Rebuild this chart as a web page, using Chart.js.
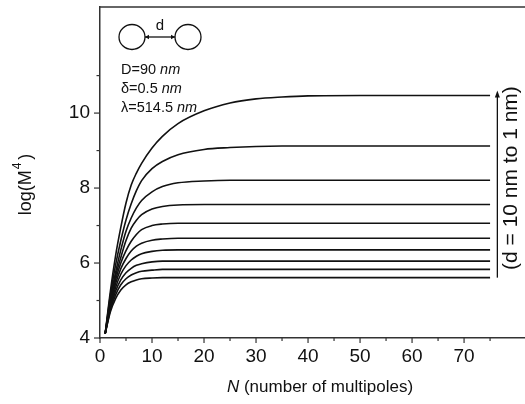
<!DOCTYPE html>
<html><head><meta charset="utf-8">
<script src="https://cdn.jsdelivr.net/npm/chart.js@4/dist/chart.umd.min.js"></script>
<style>html,body{margin:0;padding:0;overflow:hidden;background:#fff}#wrap{width:540px;height:404px;position:relative}</style>
</head><body><div id="wrap"><canvas id="c"></canvas></div>
<script>
// Number of multipoles N (x values)
const N = [1,2,3,4,5,6,7,8,10,12,15,20,25,30,35,40,50,60,75];
// log(M^4) for each gap d (1 nm ... 10 nm)
const d1  = [4.12,5.25,6.20,6.95,7.60,8.08,8.40,8.66,9.07,9.38,9.72,10.06,10.27,10.38,10.43,10.46,10.47,10.47,10.47];
const d2  = [4.12,5.15,5.95,6.60,7.15,7.58,7.93,8.20,8.52,8.71,8.89,9.03,9.08,9.11,9.12,9.12,9.12,9.12,9.12];
const d3  = [4.12,5.05,5.75,6.35,6.85,7.20,7.47,7.67,7.90,8.04,8.14,8.19,8.21,8.21,8.21,8.21,8.21,8.21,8.21];
const d4  = [4.12,5.00,5.65,6.15,6.60,6.93,7.14,7.29,7.44,7.51,7.55,7.56,7.56,7.56,7.56,7.56,7.56,7.56,7.56];
const d5  = [4.12,4.95,5.55,6.00,6.33,6.58,6.76,6.89,7.00,7.04,7.06,7.06,7.06,7.06,7.06,7.06,7.06,7.06,7.06];
const d6  = [4.12,4.90,5.45,5.85,6.12,6.32,6.45,6.53,6.61,6.64,6.66,6.66,6.66,6.66,6.66,6.66,6.66,6.66,6.66];
const d7  = [4.12,4.85,5.35,5.70,5.93,6.08,6.18,6.25,6.31,6.34,6.35,6.35,6.35,6.35,6.35,6.35,6.35,6.35,6.35];
const d8  = [4.12,4.80,5.25,5.55,5.74,5.86,5.94,5.98,6.03,6.05,6.05,6.05,6.05,6.05,6.05,6.05,6.05,6.05,6.05];
const d9  = [4.12,4.75,5.15,5.42,5.58,5.68,5.74,5.78,5.81,5.83,5.83,5.83,5.83,5.83,5.83,5.83,5.83,5.83,5.83];
const d10 = [4.12,4.70,5.05,5.28,5.42,5.50,5.55,5.58,5.60,5.61,5.61,5.61,5.61,5.61,5.61,5.61,5.61,5.61,5.61];
const gapNames = ['d = 1 nm','d = 2 nm','d = 3 nm','d = 4 nm','d = 5 nm','d = 6 nm','d = 7 nm','d = 8 nm','d = 9 nm','d = 10 nm'];
const xTickLabels = [0,10,20,30,40,50,60,70];
const xMinorTicks = [5,15,25,35,45,55,65,75];
const yTickLabels = [4,6,8,10];
const yMinorTicks = [5,7,9,11];

const series = [d1,d2,d3,d4,d5,d6,d7,d8,d9,d10];
const FONT = "'Liberation Sans', Arial, sans-serif";
const INK = '#111';
const AXIS = '#333';

const datasets = series.map((vals, i) => ({
  label: gapNames[i],
  data: N.map((n, k) => ({x: n, y: vals[k]})),
  borderColor: INK,
  borderWidth: 1.6,
  pointRadius: 0,
  fill: false,
  cubicInterpolationMode: 'monotone'
}));

const deco = {
  id: 'deco',
  afterDraw(chart) {
    const ctx = chart.ctx, a = chart.chartArea;
    const xs = chart.scales.x, ys = chart.scales.y;
    ctx.save();
    // top frame line
    ctx.strokeStyle = AXIS; ctx.lineWidth = 1.5;
    ctx.beginPath(); ctx.moveTo(a.left, a.top); ctx.lineTo(a.right + 5, a.top); ctx.stroke();
    // tick marks (outward)
    ctx.lineWidth = 1.2;
    xTickLabels.concat(xMinorTicks).forEach(v => {
      const px = xs.getPixelForValue(v);
      const len = xTickLabels.includes(v) ? 5 : 3;
      ctx.beginPath(); ctx.moveTo(px, a.bottom); ctx.lineTo(px, a.bottom + len); ctx.stroke();
    });
    yTickLabels.concat(yMinorTicks).forEach(v => {
      const py = ys.getPixelForValue(v);
      const len = yTickLabels.includes(v) ? 6 : 3.5;
      ctx.beginPath(); ctx.moveTo(a.left, py); ctx.lineTo(a.left - len, py); ctx.stroke();
    });

    // x axis title
    ctx.fillStyle = INK;
    ctx.textBaseline = 'alphabetic';
    const f1 = "italic 17px " + FONT, f2 = "17px " + FONT;
    ctx.font = f1; const wN = ctx.measureText('N').width;
    ctx.font = f2; const wR = ctx.measureText(' (number of multipoles)').width;
    const cx = (a.left + a.right) / 2;
    let x0 = cx - (wN + wR) / 2;
    const by = 392;
    ctx.font = f1; ctx.textAlign = 'left'; ctx.fillText('N', x0, by);
    ctx.font = f2; ctx.fillText(' (number of multipoles)', x0 + wN, by);

    // y axis title (rotated)
    ctx.save();
    ctx.translate(31, (a.top + a.bottom) / 2 + 12);
    ctx.rotate(-Math.PI / 2);
    ctx.font = "18px " + FONT;
    const t1 = 'log(M';
    const w1 = ctx.measureText(t1).width;
    ctx.font = "12px " + FONT; const w2 = ctx.measureText('4').width;
    ctx.font = "18px " + FONT; const w3 = ctx.measureText(')').width;
    let sx = -(w1 + w2 + 4 + w3) / 2;
    ctx.fillText(t1, sx, 0);
    ctx.font = "12px " + FONT; ctx.fillText('4', sx + w1 + 1, -10);
    ctx.font = "18px " + FONT; ctx.fillText(')', sx + w1 + w2 + 4, 0);
    ctx.restore();

    // inset: two spheres with gap d
    ctx.lineWidth = 1.3; ctx.strokeStyle = INK;
    const cy = a.top + 30;
    const lx = a.left + 32, rx = a.left + 88, r = 13;
    ctx.beginPath(); ctx.ellipse(lx, cy, r, 12.5, 0, 0, Math.PI * 2); ctx.stroke();
    ctx.beginPath(); ctx.ellipse(rx, cy, r, 12.5, 0, 0, Math.PI * 2); ctx.stroke();
    ctx.beginPath(); ctx.moveTo(lx + r, cy); ctx.lineTo(rx - r, cy); ctx.stroke();
    ctx.fillStyle = INK;
    [[lx + r, 1], [rx - r, -1]].forEach(([px, dir]) => {
      ctx.beginPath(); ctx.moveTo(px, cy); ctx.lineTo(px + dir * 4, cy - 2.2); ctx.lineTo(px + dir * 4, cy + 2.2); ctx.closePath(); ctx.fill();
    });
    ctx.font = "15px " + FONT; ctx.textAlign = 'center';
    ctx.fillText('d', (lx + rx) / 2, cy - 7);
    ctx.textAlign = 'left';
    const lines = [['D=90 ', 'nm'], ['\u03B4=0.5 ', 'nm'], ['\u03BB=514.5 ', 'nm']];
    lines.forEach(([p, u], i) => {
      const yb = a.top + 67 + i * 19;
      ctx.font = "14.5px " + FONT; const w = ctx.measureText(p).width;
      ctx.fillText(p, a.left + 21, yb);
      ctx.font = "italic 14.5px " + FONT; ctx.fillText(u, a.left + 21 + w, yb);
    });

    // right arrow (d = 10 nm to 1 nm)
    const ax = xs.getPixelForValue(76.4);
    const yb2 = ys.getPixelForValue(d10[d10.length - 1]);
    const yt2 = ys.getPixelForValue(d1[d1.length - 1]) - 5;
    ctx.lineWidth = 1.3;
    ctx.beginPath(); ctx.moveTo(ax, yb2); ctx.lineTo(ax, yt2 + 4); ctx.stroke();
    ctx.beginPath(); ctx.moveTo(ax, yt2); ctx.lineTo(ax - 2.5, yt2 + 7); ctx.lineTo(ax + 2.5, yt2 + 7); ctx.closePath(); ctx.fill();
    ctx.save();
    ctx.translate(517, (yb2 + yt2) / 2 - 6);
    ctx.rotate(-Math.PI / 2);
    ctx.font = "21px " + FONT; ctx.textAlign = 'center';
    ctx.fillText('(d = 10 nm to 1 nm)', 0, 0);
    ctx.restore();
    ctx.restore();
  }
};

new Chart(document.getElementById('c'), {
  type: 'line',
  data: { datasets },
  options: {
    responsive: true, maintainAspectRatio: false, animation: false, devicePixelRatio: 1,
    layout: { padding: { top: 7, left: 0, right: 0, bottom: 0 } },
    plugins: { legend: { display: false }, tooltip: { enabled: false } },
    scales: {
      x: {
        type: 'linear', min: 0, max: 84.6,
        afterBuildTicks: s => { s.ticks = xTickLabels.map(v => ({ value: v })); },
        ticks: { font: { family: FONT, size: 19 }, color: INK, padding: 7, maxRotation: 0, autoSkip: false },
        grid: { display: true, drawOnChartArea: false, drawTicks: false },
        border: { display: true, color: AXIS, width: 1.5 },
        afterFit: s => { s.height = 66; s.paddingLeft = 0; s.paddingRight = 0; }
      },
      y: {
        type: 'linear', min: 4, max: 12.83,
        afterBuildTicks: s => { s.ticks = yTickLabels.map(v => ({ value: v })); },
        ticks: { font: { family: FONT, size: 19 }, color: INK, padding: 10, autoSkip: false },
        grid: { display: true, drawOnChartArea: false, drawTicks: false },
        border: { display: true, color: AXIS, width: 1.5 },
        afterFit: s => { s.width = 100; s.paddingTop = 0; s.paddingBottom = 0; }
      }
    }
  },
  plugins: [deco]
});
</script></body></html>
